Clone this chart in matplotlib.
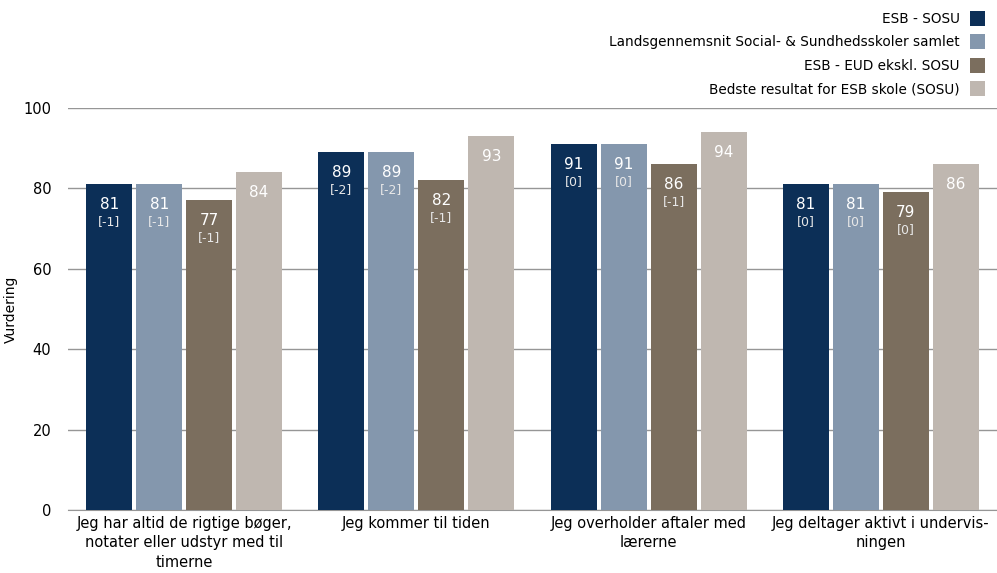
import numpy as np
import matplotlib
matplotlib.use("Agg")
from matplotlib import pyplot as plt

plt.rcParams['font.family'] = ['DejaVu Sans']

categories = ['Jeg har altid de rigtige bøger,\nnotater eller udstyr med til\ntimerne',
              'Jeg kommer til tiden',
              'Jeg overholder aftaler med\nlærerne',
              'Jeg deltager aktivt i undervis-\nningen']
series = ['ESB - SOSU',
          'Landsgennemsnit Social- & Sundhedsskoler samlet',
          'ESB - EUD ekskl. SOSU',
          'Bedste resultat for ESB skole (SOSU)']
esb_sosu = [81, 89, 91, 81]
landsgns = [81, 89, 91, 81]
esb_eud = [77, 82, 86, 79]
bedste = [84, 93, 94, 86]
changes = [['-1', '-2', '0', '0'],
           ['-1', '-2', '0', '0'],
           ['-1', '-1', '-1', '0'],
           None]

colors = ['#0c2f57', '#8497ad', '#7b6e5e', '#bfb7b0']
values = [esb_sosu, landsgns, esb_eud, bedste]

fig = plt.figure(figsize=(9.97, 5.73), dpi=100)
ax = fig.add_axes([68/997, 63/573, 1 - 68/997, 402/573])

x = np.arange(len(categories))
step = 0.215
width = 0.198
for i, (vals, col, name) in enumerate(zip(values, colors, series)):
    pos = x + (i - 1.5) * step
    ax.bar(pos, vals, width, color=col, label=name, zorder=3)
    for j, (p, v) in enumerate(zip(pos, vals)):
        ax.text(p, v - 5.0, str(v), ha='center', va='center', color='white',
                fontsize=11, zorder=4)
        if changes[i] is not None:
            ax.text(p, v - 9.2, '[' + changes[i][j] + ']', ha='center', va='center',
                    color='#e8e8e8', fontsize=9, zorder=4)

ax.set_xlim(-0.5, 3.5)
ax.set_ylim(0, 100)
ax.set_yticks([0, 20, 40, 60, 80, 100])
ax.grid(axis='y', color='#969696', linewidth=1, zorder=0)
ax.set_axisbelow(True)
for s in ['top', 'right', 'left']:
    ax.spines[s].set_visible(False)
ax.spines['bottom'].set_color('#969696')
ax.tick_params(axis='y', length=0, labelsize=10.5, pad=12)
ax.tick_params(axis='x', length=0, labelsize=10.5, pad=4)
ax.set_xticks(x)
ax.set_xticklabels(categories, linespacing=1.4)
ax.set_ylabel('Vurdering', fontsize=10)
ax.yaxis.set_label_coords(-50/929, 0.5)

handles, labels = ax.get_legend_handles_labels()
fig.legend(handles, labels, loc='upper right', bbox_to_anchor=(0.999, 1.0),
           markerfirst=False, frameon=False, fontsize=9.8,
           handlelength=1.1, handleheight=1.3, handletextpad=0.75,
           labelspacing=0.62, borderaxespad=0.4)
for t in fig.legends[0].get_texts():
    t.set_ha('right')

fig.savefig('out.png', dpi=100)
